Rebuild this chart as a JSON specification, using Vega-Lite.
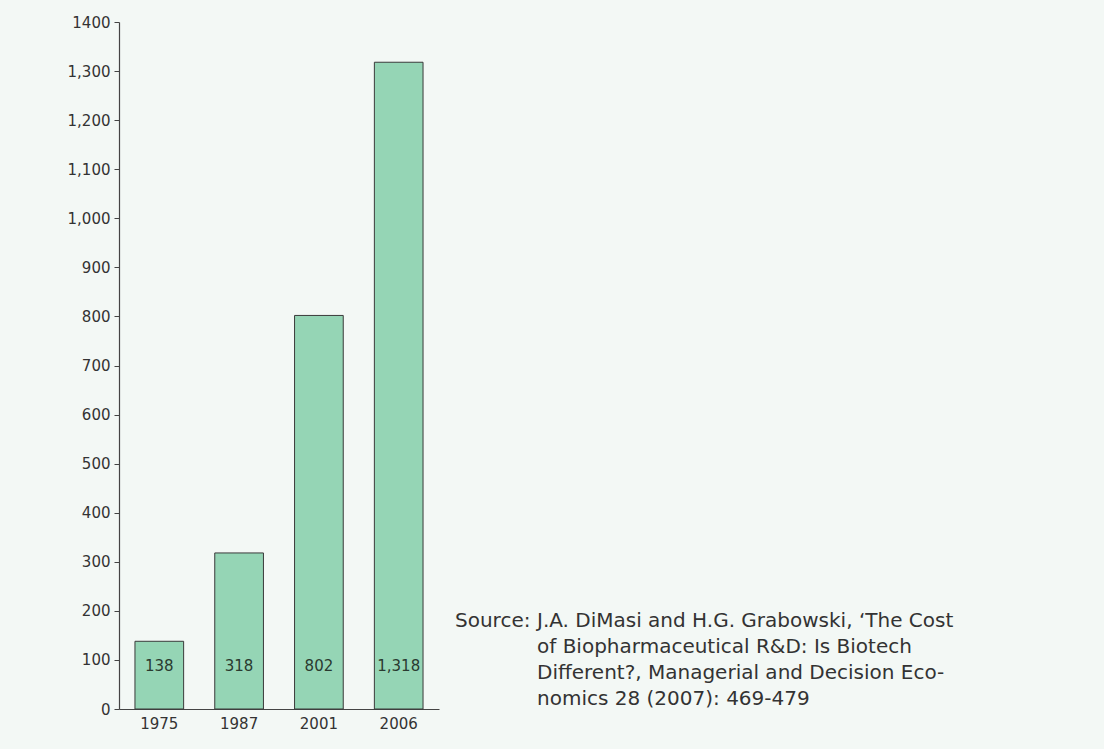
{
  "$schema": "https://vega.github.io/schema/vega-lite/v6.json",
  "background": "#f3f8f5",
  "padding": {"left": 67, "top": 15, "right": 150, "bottom": 19},
  "spacing": 16,
  "config": {
    "view": {"stroke": null},
    "font": "DejaVu Sans",
    "axis": {"labelFont": "DejaVu Sans", "labelFontSize": 15, "labelColor": "#333333", "domainColor": "#444444", "tickColor": "#444444", "grid": false}
  },
  "hconcat": [
    {
      "width": 320,
      "height": 687,
      "data": {"values": [
        {"year": "1975", "cost": 138},
        {"year": "1987", "cost": 318},
        {"year": "2001", "cost": 802},
        {"year": "2006", "cost": 1318}
      ]},
      "encoding": {
        "x": {"field": "year", "type": "nominal", "sort": null,
          "scale": {"paddingInner": 0.39, "paddingOuter": 0.2},
          "axis": {"title": null, "labelAngle": 0, "ticks": false, "labelPadding": 7, "domainWidth": 1.2}}
      },
      "layer": [
        {
          "mark": {"type": "bar", "fill": "#95d5b5", "stroke": "#3a3a3a", "strokeWidth": 1},
          "encoding": {
            "y": {"field": "cost", "type": "quantitative",
              "scale": {"domain": [0, 1400], "nice": false},
              "axis": {"title": null, "values": [0,100,200,300,400,500,600,700,800,900,1000,1100,1200,1300,1400],
                "labelExpr": "datum.value == 1400 ? '1400' : format(datum.value, ',')",
                "tickSize": 5, "labelPadding": 4, "domainWidth": 1.2}}
          }
        },
        {
          "mark": {"type": "text", "fontSize": 15, "color": "#2a3a30", "baseline": "middle"},
          "encoding": {
            "y": {"datum": 88, "type": "quantitative"},
            "text": {"field": "cost", "type": "quantitative", "format": ","}
          }
        }
      ]
    },
    {
      "width": 82,
      "height": 687,
      "data": {"values": [
        {"line": 1, "part": "label", "text": "Source:"},
        {"line": 1, "part": "body", "text": "J.A. DiMasi and H.G. Grabowski, ‘The Cost"},
        {"line": 2, "part": "body", "text": "of Biopharmaceutical R&D: Is Biotech"},
        {"line": 3, "part": "body", "text": "Different?, Managerial and Decision Eco-"},
        {"line": 4, "part": "body", "text": "nomics 28 (2007): 469-479"}
      ]},
      "mark": {"type": "text", "align": "left", "baseline": "middle", "fontSize": 20, "color": "#333333"},
      "encoding": {
        "x": {"field": "part", "type": "nominal", "scale": {"type": "point", "domain": ["label", "body"], "padding": 0}, "axis": null},
        "y": {"field": "line", "type": "quantitative", "scale": {"domain": [-22.1, 4.4], "nice": false, "zero": false, "reverse": true}, "axis": null},
        "text": {"field": "text"}
      }
    }
  ]
}
